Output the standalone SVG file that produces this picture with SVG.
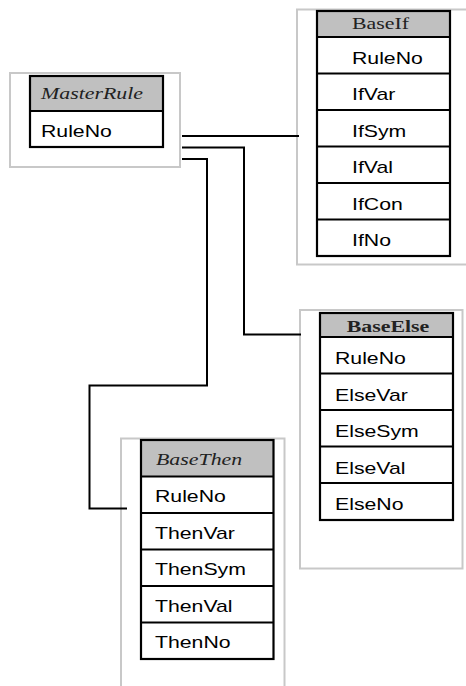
<svg xmlns="http://www.w3.org/2000/svg" width="466" height="686" viewBox="0 0 466 686">
  <style>
    .frame { fill: #ffffff; stroke: #c8c8c8; stroke-width: 2; }
    .tbl { fill: none; stroke: #000000; stroke-width: 2.2; }
    .hdr { fill: #c0c0c0; stroke: none; }
    .sep { stroke: #000000; stroke-width: 2.2; }
    .conn { fill: none; stroke: #000000; stroke-width: 2; }
    .f { font-family: "Liberation Sans", Arial, sans-serif; font-size: 17px; fill: #000; }
    .h { font-family: "Liberation Serif", "Times New Roman", serif; font-size: 17.5px; fill: #222; }
    .it { font-style: italic; }
    .bd { font-weight: bold; }
  </style>
  <rect width="466" height="686" fill="#ffffff"/>

  <!-- MasterRule -->
  <g id="MasterRule">
    <rect class="frame" x="10" y="73" width="170" height="94"/>
    <rect class="hdr" x="30" y="76" width="133" height="35"/>
    <line class="sep" x1="30" y1="111" x2="163" y2="111"/>
    <rect class="tbl" x="30" y="76" width="133" height="71"/>
    <text class="h it" transform="translate(41 99) scale(1.25 1)">MasterRule</text>
    <text class="f" transform="translate(41 137) scale(1.25 1)">RuleNo</text>
  </g>

  <!-- BaseIf -->
  <g id="BaseIf">
    <rect class="frame" x="297" y="9.5" width="180" height="255"/>
    <rect class="hdr" x="317" y="11" width="133" height="26"/>
    <line class="sep" x1="317" y1="37" x2="450" y2="37"/>
    <line class="sep" x1="317" y1="73.5" x2="450" y2="73.5"/>
    <line class="sep" x1="317" y1="110" x2="450" y2="110"/>
    <line class="sep" x1="317" y1="146.5" x2="450" y2="146.5"/>
    <line class="sep" x1="317" y1="183" x2="450" y2="183"/>
    <line class="sep" x1="317" y1="219.5" x2="450" y2="219.5"/>
    <rect class="tbl" x="317" y="11" width="133" height="245"/>
    <text class="h" transform="translate(352 29) scale(1.25 1)">BaseIf</text>
    <text class="f" transform="translate(352 63.5) scale(1.25 1)">RuleNo</text>
    <text class="f" transform="translate(352 100) scale(1.25 1)">IfVar</text>
    <text class="f" transform="translate(352 136.5) scale(1.25 1)">IfSym</text>
    <text class="f" transform="translate(352 173) scale(1.25 1)">IfVal</text>
    <text class="f" transform="translate(352 209.5) scale(1.25 1)">IfCon</text>
    <text class="f" transform="translate(352 246) scale(1.25 1)">IfNo</text>
  </g>

  <!-- BaseElse -->
  <g id="BaseElse">
    <rect class="frame" x="300" y="310" width="162.5" height="258.5"/>
    <rect class="hdr" x="320" y="313" width="133" height="24"/>
    <line class="sep" x1="320" y1="337" x2="453" y2="337"/>
    <line class="sep" x1="320" y1="373.5" x2="453" y2="373.5"/>
    <line class="sep" x1="320" y1="410" x2="453" y2="410"/>
    <line class="sep" x1="320" y1="446.5" x2="453" y2="446.5"/>
    <line class="sep" x1="320" y1="483" x2="453" y2="483"/>
    <rect class="tbl" x="320" y="313" width="133" height="207"/>
    <text class="h bd" text-anchor="middle" transform="translate(388 331.5) scale(1.25 1)">BaseElse</text>
    <text class="f" transform="translate(335 364) scale(1.25 1)">RuleNo</text>
    <text class="f" transform="translate(335 400.5) scale(1.25 1)">ElseVar</text>
    <text class="f" transform="translate(335 437) scale(1.25 1)">ElseSym</text>
    <text class="f" transform="translate(335 473.5) scale(1.25 1)">ElseVal</text>
    <text class="f" transform="translate(335 510) scale(1.25 1)">ElseNo</text>
  </g>

  <!-- BaseThen -->
  <g id="BaseThen">
    <rect class="frame" x="121" y="438.5" width="163.5" height="260"/>
    <rect class="hdr" x="141" y="440" width="132.5" height="36.5"/>
    <line class="sep" x1="141" y1="476.5" x2="273.5" y2="476.5"/>
    <line class="sep" x1="141" y1="513" x2="273.5" y2="513"/>
    <line class="sep" x1="141" y1="549.5" x2="273.5" y2="549.5"/>
    <line class="sep" x1="141" y1="586" x2="273.5" y2="586"/>
    <line class="sep" x1="141" y1="622.5" x2="273.5" y2="622.5"/>
    <rect class="tbl" x="141" y="440" width="132.5" height="219"/>
    <text class="h it" transform="translate(156 465) scale(1.25 1)">BaseThen</text>
    <text class="f" transform="translate(155 502) scale(1.25 1)">RuleNo</text>
    <text class="f" transform="translate(155 538.5) scale(1.25 1)">ThenVar</text>
    <text class="f" transform="translate(155 575) scale(1.25 1)">ThenSym</text>
    <text class="f" transform="translate(155 611.5) scale(1.25 1)">ThenVal</text>
    <text class="f" transform="translate(155 648) scale(1.25 1)">ThenNo</text>
  </g>

  <!-- links from MasterRule to the three rule tables -->
  <g id="connectors">
    <path class="conn" d="M182 136 H299"/>
    <path class="conn" d="M182 147.5 H244 V334.5 H301"/>
    <path class="conn" d="M182 159 H207 V385.5 H89.5 V508.5 H127"/>
  </g>
</svg>
